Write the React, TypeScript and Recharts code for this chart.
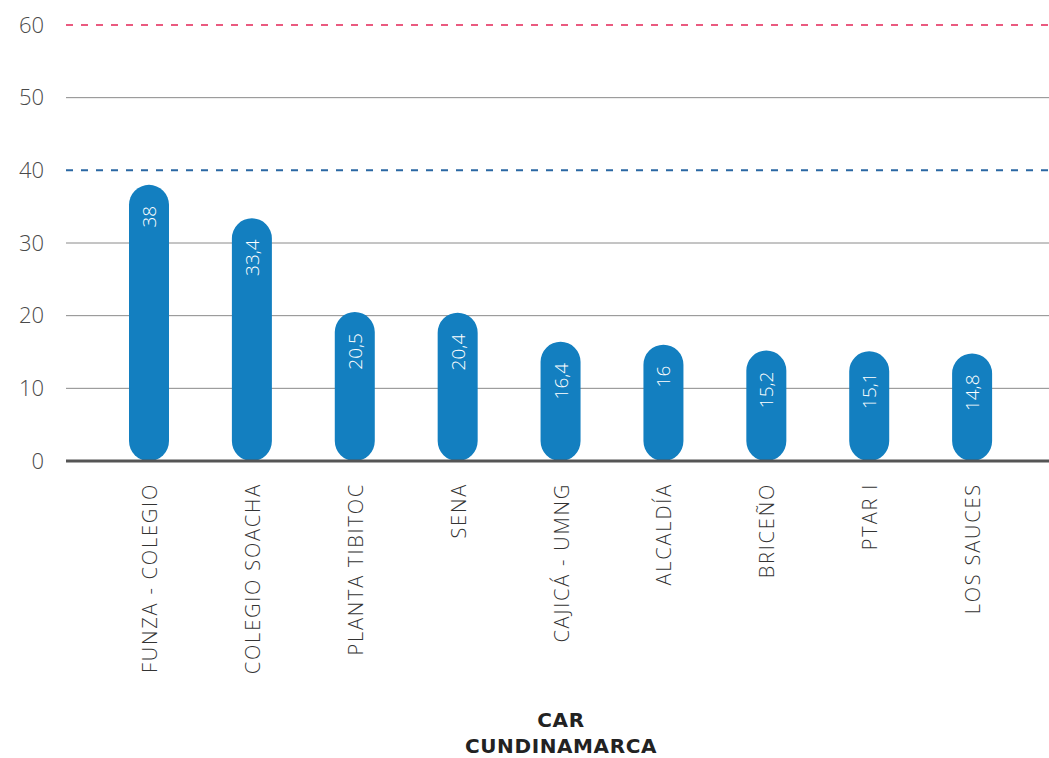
import { Bar, BarChart, CartesianGrid, LabelList, ReferenceLine, XAxis, YAxis } from 'recharts'

const stations = [
  'FUNZA - COLEGIO',
  'COLEGIO SOACHA',
  'PLANTA TIBITOC',
  'SENA',
  'CAJICÁ - UMNG',
  'ALCALDÍA',
  'BRICEÑO',
  'PTAR I',
  'LOS SAUCES',
]
const values = [38, 33.4, 20.5, 20.4, 16.4, 16, 15.2, 15.1, 14.8]
const yTicks = [0, 10, 20, 30, 40, 50, 60]
const gridValues = [10, 20, 30, 50]
const limitBlue = 40
const limitPink = 60

const data = stations.map((name, i) => ({ name, value: values[i] }))

const FONT = '"Open Sans", sans-serif'

function StationTick({ x, y, payload }: any) {
  return (
    <text
      x={x}
      y={y}
      transform={`rotate(-90, ${x}, ${y})`}
      textAnchor="end"
      dominantBaseline="central"
      fontFamily={FONT}
      fontWeight={300}
      fontSize={20}
      letterSpacing={1.8}
      fill="#333"
    >
      {payload.value}
    </text>
  )
}

function ValueLabel({ x, y, width, value }: any) {
  const cx = x + width / 2
  const ty = y + 21
  return (
    <text
      x={cx}
      y={ty}
      transform={`rotate(-90, ${cx}, ${ty})`}
      textAnchor="end"
      dominantBaseline="central"
      fontFamily={FONT}
      fontWeight={300}
      fontSize={19}
      fill="#fff"
    >
      {String(value).replace('.', ',')}
    </text>
  )
}

export default function App() {
  return (
    <div style={{ position: 'absolute', left: 0, top: 0, width: 1049, height: 758, background: '#fff' }}>
      <BarChart width={1049} height={758} data={data} margin={{ top: 25, right: 0, bottom: 0, left: 0 }}>
        <CartesianGrid vertical={false} horizontalValues={gridValues} stroke="#8a8a8a" strokeWidth={1} />
        <ReferenceLine y={limitBlue} stroke="#2a67a3" strokeWidth={2} strokeDasharray="7 8" />
        <ReferenceLine y={limitPink} stroke="#ea5a80" strokeWidth={2} strokeDasharray="7 8" />
        <XAxis
          dataKey="name"
          interval={0}
          height={297}
          padding={{ left: 32, right: 25 }}
          tickSize={0}
          tickMargin={22}
          tick={<StationTick />}
          axisLine={{ stroke: '#555', strokeWidth: 3 }}
        />
        <YAxis
          domain={[0, 60]}
          ticks={yTicks}
          width={66}
          tickSize={0}
          tickMargin={22}
          axisLine={false}
          tick={{ fontFamily: FONT, fontWeight: 300, fontSize: 22, fill: '#4a4a4a' }}
        />
        <Bar dataKey="value" fill="#137fc0" barSize={40} radius={20} isAnimationActive={false}>
          <LabelList dataKey="value" content={<ValueLabel />} />
        </Bar>
      </BarChart>
      <div
        style={{
          position: 'absolute',
          left: 361,
          top: 707,
          width: 400,
          textAlign: 'center',
          fontFamily: '"DejaVu Sans", sans-serif',
          fontWeight: 700,
          fontSize: 20,
          letterSpacing: 0.6,
          lineHeight: '26px',
          color: '#222',
        }}
      >
        CAR
        <br />
        CUNDINAMARCA
      </div>
    </div>
  )
}
